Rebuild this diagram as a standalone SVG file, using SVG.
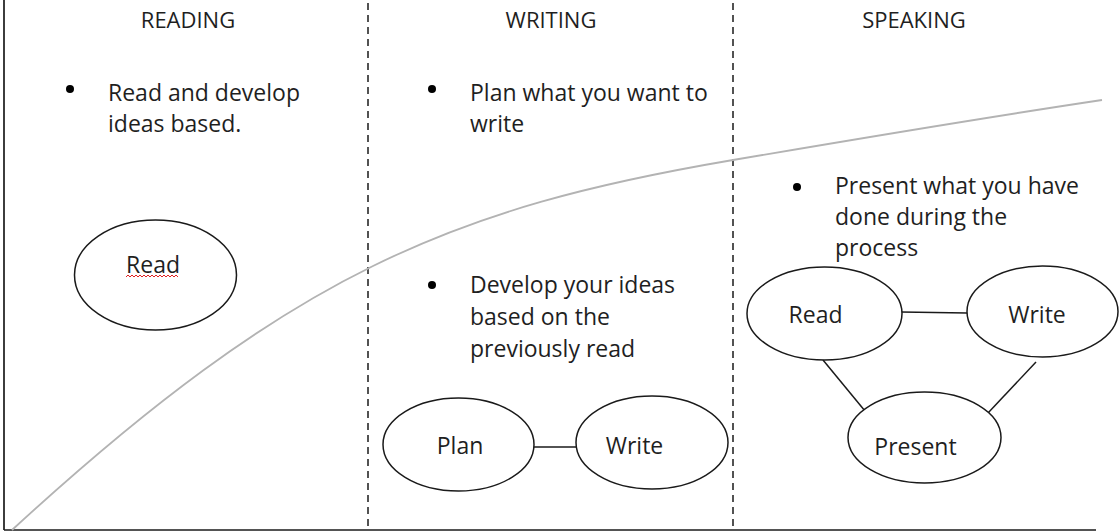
<svg xmlns="http://www.w3.org/2000/svg" width="1120" height="531" viewBox="0 0 1120 531">
<defs>
<style>
.head{font-family:"Open Sans","Liberation Sans",sans-serif;font-size:22px;fill:#1f1f1f;text-anchor:middle}
.txt{font-family:"Open Sans","Liberation Sans",sans-serif;font-size:23px;fill:#1f1f1f}
.lbl{font-family:"Open Sans","Liberation Sans",sans-serif;font-size:23px;fill:#1f1f1f;text-anchor:middle}
.node{fill:#ffffff;stroke:#1a1a1a;stroke-width:1.5}
.edge{stroke:#1a1a1a;stroke-width:1.5;fill:none}
.dash{stroke:#1a1a1a;stroke-width:1.5;stroke-dasharray:7 5}
.axis{stroke:#1a1a1a;stroke-width:1.7}
.bullet{fill:#000000}
</style>
</defs>
<rect width="1120" height="531" fill="#ffffff"/>
<g id="axes">
<line class="axis" x1="4" y1="0" x2="4" y2="530"/>
<line class="axis" x1="4" y1="530" x2="1096" y2="530"/>
<line class="dash" x1="368" y1="3" x2="368" y2="530"/>
<line class="dash" x1="733" y1="3" x2="733" y2="530"/>
</g>
<g id="curve">
<path d="M12,530 C292,272.4 453,207.6 733,160 C833,143 1002,115 1102,100" fill="none" stroke="#b3b3b3" stroke-width="1.8"/>
</g>
<g id="headings">
<text class="head" x="188" y="28">READING</text>
<text class="head" x="551" y="28">WRITING</text>
<text class="head" x="914" y="28">SPEAKING</text>
</g>
<g id="bullets">
<circle class="bullet" cx="70" cy="89" r="4"/>
<text class="txt" x="108" y="101">Read and develop</text>
<text class="txt" x="108" y="132">ideas based.</text>
<circle class="bullet" cx="432" cy="89" r="4"/>
<text class="txt" x="470" y="101">Plan what you want to</text>
<text class="txt" x="470" y="132">write</text>
<circle class="bullet" cx="432" cy="285" r="4"/>
<text class="txt" x="470" y="293">Develop your ideas</text>
<text class="txt" x="470" y="325">based on the</text>
<text class="txt" x="470" y="357">previously read</text>
<circle class="bullet" cx="797" cy="187" r="4"/>
<text class="txt" x="835" y="194">Present what you have</text>
<text class="txt" x="835" y="225">done during the</text>
<text class="txt" x="835" y="256">process</text>
</g>
<g id="connectors">
<line class="edge" x1="534" y1="447" x2="576" y2="447"/>
<line class="edge" x1="901" y1="312" x2="967" y2="313"/>
<line class="edge" x1="823" y1="360" x2="865" y2="411"/>
<line class="edge" x1="1036" y1="362" x2="988" y2="413"/>
</g>
<g id="node-reading-read">
<ellipse class="node" cx="155.5" cy="275" rx="81" ry="55"/>
<text class="lbl" x="153" y="273">Read</text>
<path d="M126,277 l2,-2 l2,2 l2,-2 l2,2 l2,-2 l2,2 l2,-2 l2,2 l2,-2 l2,2 l2,-2 l2,2 l2,-2 l2,2 l2,-2 l2,2 l2,-2 l2,2 l2,-2 l2,2 l2,-2 l2,2 l2,-2 l2,2 l2,-2 l2,2" fill="none" stroke="#e02020" stroke-width="1"/>
</g>
<g id="node-writing-plan">
<ellipse class="node" cx="458.5" cy="444.5" rx="75.5" ry="46.5"/>
<text class="lbl" x="460" y="454">Plan</text>
</g>
<g id="node-writing-write">
<ellipse class="node" cx="652" cy="442.5" rx="76" ry="46.5"/>
<text class="lbl" x="634.5" y="454">Write</text>
</g>
<g id="node-speaking-read">
<ellipse class="node" cx="824.5" cy="313.5" rx="77.5" ry="46.5"/>
<text class="lbl" x="815.5" y="323">Read</text>
</g>
<g id="node-speaking-write">
<ellipse class="node" cx="1042.5" cy="311.5" rx="75.5" ry="45.5"/>
<text class="lbl" x="1037" y="323">Write</text>
</g>
<g id="node-speaking-present">
<ellipse class="node" cx="924.5" cy="437.5" rx="76.5" ry="45.5"/>
<text class="lbl" x="915.5" y="455">Present</text>
</g>
</svg>
